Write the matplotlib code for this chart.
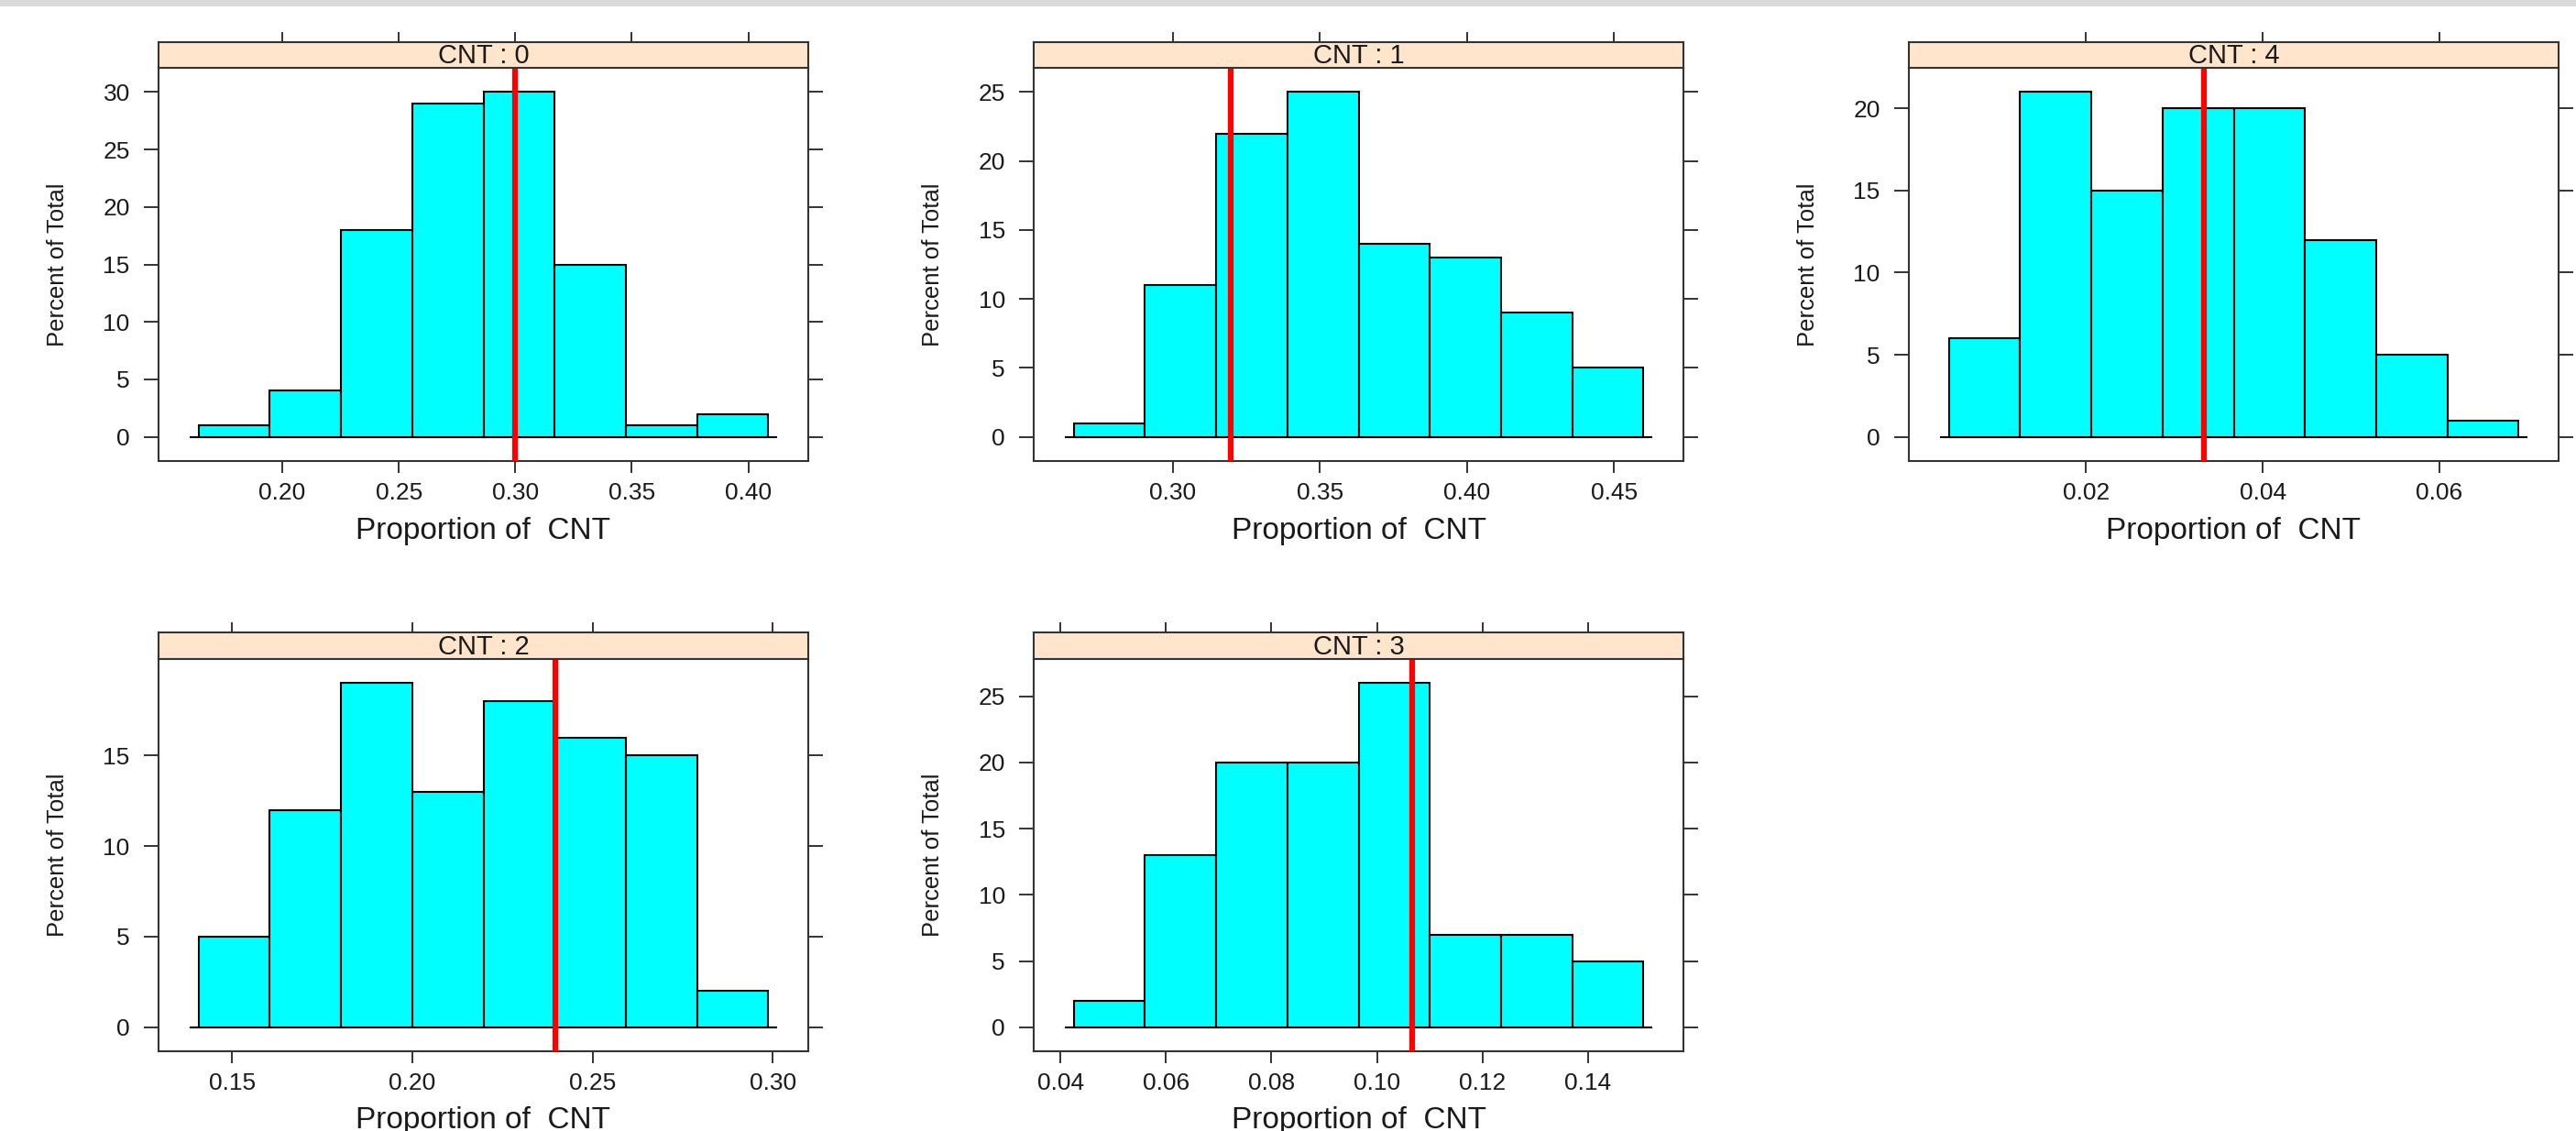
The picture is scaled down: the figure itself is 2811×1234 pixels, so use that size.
import numpy as np
import matplotlib.pyplot as plt
from matplotlib.patches import Rectangle

plt.rcParams['font.family'] = ['Liberation Sans', 'DejaVu Sans']

# dados (percentual de cada classe do histograma)
paineis = ["0", "1", "4", "2", "3"]
limites = [(0.164, 0.4086), (0.2662, 0.4600), (0.00446, 0.06898),
           (0.1406, 0.2988), (0.0425, 0.1505)]
percentuais = [
    [1, 4, 18, 29, 30, 15, 1, 2],
    [1, 11, 22, 25, 14, 13, 9, 5],
    [6, 21, 15, 20, 20, 12, 5, 1],
    [5, 12, 19, 13, 18, 16, 15, 2],
    [2, 13, 20, 20, 26, 7, 7, 5],
]
linhas_ref = [0.300, 0.3196, 0.0333, 0.2397, 0.1067]
ticks_x = [
    [0.20, 0.25, 0.30, 0.35, 0.40],
    [0.30, 0.35, 0.40, 0.45],
    [0.02, 0.04, 0.06],
    [0.15, 0.20, 0.25, 0.30],
    [0.04, 0.06, 0.08, 0.10, 0.12, 0.14],
]
rotulos_x = [
    ["0.20", "0.25", "0.30", "0.35", "0.40"],
    ["0.30", "0.35", "0.40", "0.45"],
    ["0.02", "0.04", "0.06"],
    ["0.15", "0.20", "0.25", "0.30"],
    ["0.04", "0.06", "0.08", "0.10", "0.12", "0.14"],
]
ticks_y = [
    [0, 5, 10, 15, 20, 25, 30],
    [0, 5, 10, 15, 20, 25],
    [0, 5, 10, 15, 20],
    [0, 5, 10, 15],
    [0, 5, 10, 15, 20, 25],
]

# layout em pixels da imagem original
LARG, ALT = 2811, 1234
colunas = [173, 1128, 2083]
largura_painel = 709
linhas_layout = [(74, 503, 46), (719, 1147, 690)]  # topo, base, topo da faixa
posicoes = [(0, 0), (1, 0), (2, 0), (0, 1), (1, 1)]

COR_QUADRO = '#333333'
COR_TEXTO = '#1a1a1a'


def desenhar_painel(fig, i):
    col, lin = posicoes[i]
    topo, base, topo_faixa = linhas_layout[lin]
    esq = colunas[col] / LARG
    w = largura_painel / LARG

    ax = fig.add_axes([esq, 1 - base / ALT, w, (base - topo) / ALT])
    lo, hi = limites[i]
    pct = percentuais[i]
    bordas = np.linspace(lo, hi, len(pct) + 1)
    ax.bar(bordas[:-1], pct, width=np.diff(bordas), align='edge',
           color='#00FFFF', edgecolor='black', linewidth=1.5, zorder=2)
    faixa = hi - lo
    ax.hlines(0, lo - 0.015 * faixa, hi + 0.015 * faixa, color='black',
              linewidth=1.5, zorder=1)
    ax.axvline(linhas_ref[i], color='#FF0000', linewidth=4.5, zorder=3)

    ymax = max(pct)
    ax.set_xlim(lo - 0.07 * faixa, hi + 0.07 * faixa)
    ax.set_ylim(-0.07 * ymax, 1.07 * ymax)
    ax.set_xticks(ticks_x[i], rotulos_x[i])
    ax.set_yticks(ticks_y[i])
    ax.tick_params(axis='y', left=True, right=True, labelright=False,
                   length=11.5, width=1.4, pad=11, labelsize=19,
                   color=COR_QUADRO, labelcolor=COR_TEXTO)
    ax.tick_params(axis='x', bottom=True, top=False, length=9.5, width=1.4,
                   pad=7, labelsize=19, color=COR_QUADRO, labelcolor=COR_TEXTO)
    for s in ax.spines.values():
        s.set_color(COR_QUADRO)
        s.set_linewidth(1.5)

    ax.set_xlabel("Proportion of  CNT", fontsize=24, color=COR_TEXTO, va='center')
    ax.xaxis.set_label_coords(0.5, -76 / (base - topo))
    ax.set_ylabel("Percent of Total", fontsize=18.5, color=COR_TEXTO, va='center')
    ax.yaxis.set_label_coords(-110 / largura_painel, 0.5)

    # faixa do titulo (strip)
    sax = fig.add_axes([esq, 1 - topo / ALT, w, (topo - topo_faixa) / ALT])
    sax.set_facecolor('#FFE5CC')
    sax.set_xlim(ax.get_xlim())
    sax.set_yticks([])
    sax.set_xticks(ticks_x[i])
    sax.tick_params(axis='x', top=True, bottom=False, labeltop=False,
                    labelbottom=False, length=8, width=1.4, color=COR_QUADRO)
    for s in sax.spines.values():
        s.set_color(COR_QUADRO)
        s.set_linewidth(1.5)
    sax.text(0.5, 0.45, "CNT : " + paineis[i], transform=sax.transAxes,
             ha='center', va='center', fontsize=21, color=COR_TEXTO)


fig = plt.figure(figsize=(LARG / 100, ALT / 100), dpi=100)
fig.patches.append(Rectangle((0, 1 - 7 / ALT), 1, 7 / ALT, transform=fig.transFigure,
                             facecolor='#D9D9D9', edgecolor='none'))

for i in range(len(paineis)):
    desenhar_painel(fig, i)

fig.savefig("out.png", dpi=100)
